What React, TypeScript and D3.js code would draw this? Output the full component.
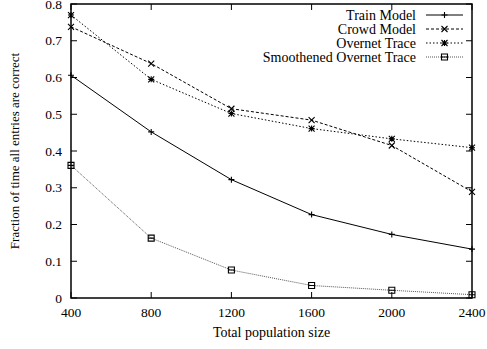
import React, { useEffect, useRef } from "react";
import * as d3 from "d3";

const sizes = [400, 800, 1200, 1600, 2000, 2400];
const trainModel = [0.606, 0.452, 0.322, 0.227, 0.173, 0.133];
const crowdModel = [0.738, 0.638, 0.515, 0.484, 0.415, 0.289];
const overnetTrace = [0.77, 0.595, 0.502, 0.461, 0.433, 0.409];
const smoothTrace = [0.361, 0.163, 0.076, 0.034, 0.021, 0.009];
const yTicks = [0, 0.1, 0.2, 0.3, 0.4, 0.5, 0.6, 0.7, 0.8];

const seriesNames = ["Train Model", "Crowd Model", "Overnet Trace", "Smoothened Overnet Trace"];
const seriesValues = [trainModel, crowdModel, overnetTrace, smoothTrace];
const dashes = ["none", "3,2", "1.5,2", "1,1"];
const markers = ["plus", "cross", "star", "box"];

export default function App() {
  const ref = useRef<SVGSVGElement>(null);

  useEffect(() => {
    const svg = d3.select(ref.current);
    svg.selectAll("*").remove();

    const margin = { top: 4, right: 15, bottom: 51, left: 71 };
    const width = 487 - margin.left - margin.right;
    const height = 349 - margin.top - margin.bottom;
    const font = "'Liberation Serif', 'Times New Roman', serif";

    const x = d3.scaleLinear().domain([400, 2400]).range([0, width]);
    const y = d3.scaleLinear().domain([0, 0.8]).range([height, 0]);

    const g = svg.append("g").attr("transform", "translate(" + margin.left + "," + margin.top + ")");

    // inward ticks, mirrored like gnuplot
    const tickLen = 6;
    sizes.forEach(v => {
      g.append("line").attr("x1", x(v)).attr("x2", x(v)).attr("y1", height).attr("y2", height - tickLen)
        .attr("stroke", "#000");
      g.append("line").attr("x1", x(v)).attr("x2", x(v)).attr("y1", 0).attr("y2", tickLen)
        .attr("stroke", "#000");
      g.append("text").text(v).attr("x", x(v)).attr("y", height + 19)
        .attr("text-anchor", "middle").attr("font-family", font).attr("font-size", 13.5);
    });
    yTicks.forEach(v => {
      g.append("line").attr("x1", 0).attr("x2", tickLen).attr("y1", y(v)).attr("y2", y(v))
        .attr("stroke", "#000");
      g.append("line").attr("x1", width).attr("x2", width - tickLen).attr("y1", y(v)).attr("y2", y(v))
        .attr("stroke", "#000");
      g.append("text").text(v === 0 ? "0" : d3.format(".1f")(v)).attr("x", -9).attr("y", y(v) + 4.5)
        .attr("text-anchor", "end").attr("font-family", font).attr("font-size", 13.5);
    });

    g.append("rect").attr("width", width).attr("height", height)
      .attr("fill", "none").attr("stroke", "#000").attr("stroke-width", 1.5);

    const drawMarker = (sel: any, type: string, cx: number, cy: number) => {
      const s = 3;
      const p = d3.path();
      if (type === "plus" || type === "star") {
        p.moveTo(cx - s, cy); p.lineTo(cx + s, cy);
        p.moveTo(cx, cy - s); p.lineTo(cx, cy + s);
      }
      if (type === "cross" || type === "star") {
        p.moveTo(cx - s, cy - s); p.lineTo(cx + s, cy + s);
        p.moveTo(cx - s, cy + s); p.lineTo(cx + s, cy - s);
      }
      if (type === "box") {
        p.rect(cx - s, cy - s, 2 * s, 2 * s);
        p.moveTo(cx - s, cy); p.lineTo(cx + s, cy);
      }
      sel.append("path").attr("d", p.toString()).attr("fill", "none")
        .attr("stroke", "#000").attr("stroke-width", 1.1);
    };

    const line = d3.line<number>().x((d, i) => x(sizes[i])).y(d => y(d));

    seriesValues.forEach((vals, k) => {
      g.append("path").datum(vals).attr("d", line).attr("fill", "none")
        .attr("stroke", k === 3 ? "#555" : "#000").attr("stroke-width", 1)
        .attr("stroke-dasharray", dashes[k]);
      vals.forEach((v, i) => drawMarker(g, markers[k], x(sizes[i]), y(v)));
    });

    // legend
    seriesNames.forEach((name, k) => {
      const ly = 11 + k * 14;
      g.append("text").text(name).attr("x", 345).attr("y", ly + 4.5)
        .attr("text-anchor", "end").attr("font-family", font).attr("font-size", 14);
      g.append("line").attr("x1", 355).attr("x2", 392).attr("y1", ly).attr("y2", ly)
        .attr("stroke", k === 3 ? "#555" : "#000").attr("stroke-dasharray", dashes[k]);
      drawMarker(g, markers[k], 373.5, ly);
    });

    svg.append("text").text("Total population size")
      .attr("x", margin.left + width / 2).attr("y", 337)
      .attr("text-anchor", "middle").attr("font-family", font).attr("font-size", 14);

    svg.append("text").text("Fraction of time all entries are correct")
      .attr("transform", "translate(19," + (margin.top + height / 2) + ") rotate(-90)")
      .attr("text-anchor", "middle").attr("font-family", font).attr("font-size", 13);
  }, []);

  return (
    <svg ref={ref} width={487} height={349}
      style={{ position: "absolute", left: 0, top: 0, background: "#fff" }} />
  );
}
